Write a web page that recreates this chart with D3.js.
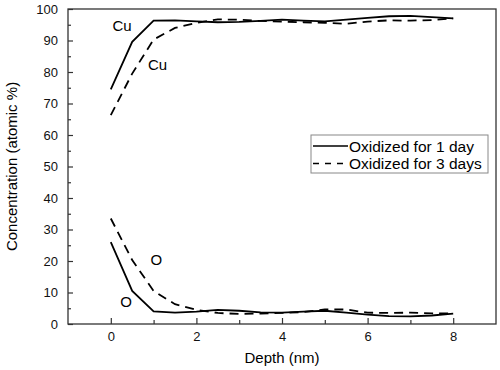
<!DOCTYPE html>
<html>
<head>
<meta charset="utf-8">
<script src="https://cdn.jsdelivr.net/npm/d3@7"></script>
<style>
    body { margin: 0; background: #fff; }
    svg { font-family: Arial, "Liberation Sans", sans-serif; }
</style>
</head>
<body>
<div id="chart"></div>
<script>
// depth steps (nm)
let depth = [0, 0.5, 1, 1.5, 2, 2.5, 3, 3.5, 4, 4.5, 5, 5.5, 6, 6.5, 7, 7.5, 8];
let cu1day = [74.5, 89.6, 96.3, 96.4, 96.1, 95.8, 95.9, 96.2, 96.6, 96.3, 96.1, 96.6, 97.2, 97.7, 97.8, 97.4, 97.0];
let cu3days = [66.3, 79.5, 90.3, 94.0, 95.6, 96.7, 96.6, 96.2, 96.0, 95.8, 95.6, 95.3, 96.0, 96.4, 96.3, 96.5, 97.0];
let o1day = [26.0, 10.5, 4.0, 3.6, 3.9, 4.5, 4.2, 3.7, 3.6, 3.9, 4.2, 3.6, 3.0, 2.5, 2.4, 2.7, 3.3];
let o3days = [33.5, 20.3, 10.5, 6.3, 4.5, 3.5, 3.2, 3.3, 3.5, 3.8, 4.6, 4.6, 3.6, 3.5, 3.6, 3.4, 3.4];
let xTicks = [0, 2, 4, 6, 8];
let yTicks = [0, 10, 20, 30, 40, 50, 60, 70, 80, 90, 100];
let legendNames = ["Oxidized for 1 day", "Oxidized for 3 days"];

let width = 500;
let height = 370;
let margin = {top: 9, right: 4, bottom: 46, left: 68};

let svg = d3.select('#chart')
    .append('svg')
    .attr('width', width)
    .attr('height', height);

let x = d3.scaleLinear().domain([-1, 9]).range([margin.left, width - margin.right]);
let y = d3.scaleLinear().domain([0, 100]).range([height - margin.bottom, margin.top]);

// frame
svg.append('rect')
    .attr('x', x(-1)).attr('y', y(100))
    .attr('width', x(9) - x(-1)).attr('height', y(0) - y(100))
    .attr('fill', 'none').attr('stroke', '#333').attr('stroke-width', 1.3);

// ticks point inward
svg.append('g').attr('transform', 'translate(0,' + y(0) + ')')
    .call(d3.axisBottom(x).tickValues(xTicks).tickSize(-6).tickPadding(8).tickFormat(d3.format('d')));
svg.append('g').attr('transform', 'translate(0,' + y(0) + ')')
    .call(d3.axisBottom(x).tickValues([1, 3, 5, 7]).tickSize(-4).tickFormat(''));
svg.append('g').attr('transform', 'translate(' + x(-1) + ',0)')
    .call(d3.axisLeft(y).tickValues(yTicks).tickSize(-5).tickPadding(10));
svg.append('g').attr('transform', 'translate(' + x(-1) + ',0)')
    .call(d3.axisLeft(y).tickValues(d3.range(5, 100, 10)).tickSize(-3).tickFormat(''));

svg.selectAll('.domain').remove();
svg.selectAll('.tick line').attr('stroke', '#333').attr('stroke-width', 1.2);
svg.selectAll('.tick text').attr('font-size', 13).attr('fill', '#111')
    .attr('font-family', 'Arial, "Liberation Sans", sans-serif');

svg.append('text')
    .attr('x', x(4)).attr('y', 363)
    .attr('text-anchor', 'middle')
    .attr('font-size', 15)
    .text('Depth (nm)');

svg.append('text')
    .attr('transform', 'translate(17,' + ((y(0) + y(100)) / 2) + ') rotate(-90)')
    .attr('text-anchor', 'middle')
    .attr('font-size', 15)
    .text('Concentration (atomic %)');

let line = d3.line()
    .x((d, i) => x(depth[i]))
    .y(d => y(d));

let series = [
    {values: cu1day, dash: null},
    {values: cu3days, dash: '9,6'},
    {values: o1day, dash: null},
    {values: o3days, dash: '9,6'}
];

svg.selectAll('path.series')
    .data(series)
    .enter()
    .append('path')
    .attr('class', 'series')
    .attr('d', d => line(d.values))
    .attr('fill', 'none')
    .attr('stroke', '#000')
    .attr('stroke-width', 1.8)
    .attr('stroke-dasharray', d => d.dash);

// element labels
let labels = [
    {t: 'Cu', dx: 0.04, v: 93},
    {t: 'Cu', dx: 0.87, v: 80.5},
    {t: 'O', dx: 0.22, v: 5.5},
    {t: 'O', dx: 0.93, v: 18.8}
];
svg.selectAll('text.elem')
    .data(labels)
    .enter()
    .append('text')
    .attr('class', 'elem')
    .attr('x', d => x(d.dx))
    .attr('y', d => y(d.v))
    .attr('font-size', 15)
    .text(d => d.t);

// legend
let lg = svg.append('g').attr('transform', 'translate(311,135)');
lg.append('rect')
    .attr('width', 177).attr('height', 38)
    .attr('fill', '#fff').attr('stroke', '#888').attr('stroke-width', 1);
let rows = lg.selectAll('g.row')
    .data(legendNames)
    .enter()
    .append('g')
    .attr('class', 'row')
    .attr('transform', (d, i) => 'translate(0,' + (11 + i * 17.5) + ')');
rows.append('line')
    .attr('x1', 2).attr('x2', 37)
    .attr('stroke', '#000').attr('stroke-width', 1.7)
    .attr('stroke-dasharray', (d, i) => i === 1 ? '6,6' : null);
rows.append('text')
    .attr('x', 38).attr('y', 5.5)
    .attr('font-size', 15.5)
    .text(d => d);
</script>
</body>
</html>
